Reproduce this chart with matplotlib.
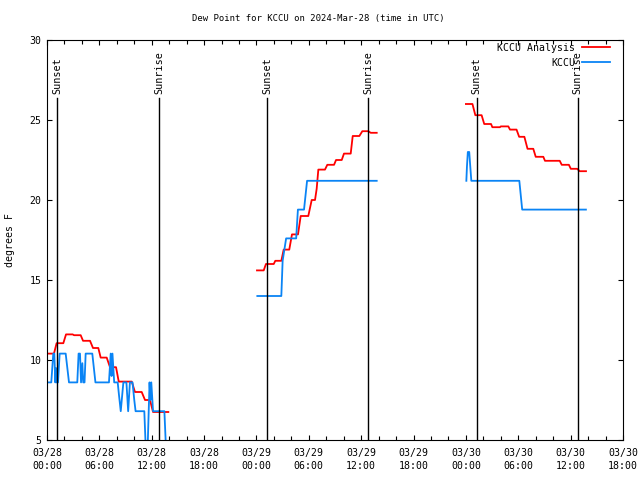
#!/usr/bin/env python3
"""KCCU dew point plot (analysis vs obs) with sunrise / sunset markers."""

import numpy as np
import pandas as pd
import matplotlib
matplotlib.use("Agg")
import matplotlib.pyplot as plt
import matplotlib.dates as mdates

START = pd.Timestamp("2024-03-28 00:00")
END = pd.Timestamp("2024-03-30 18:00")

# hours after 03/28 00:00 UTC, dew point degF (nan = gap)
ana_hours = [0.1, 0.8, 1.1, 1.87, 2.18, 2.94, 3.1, 3.86, 4.13, 4.93, 5.27, 5.88,
             6.15, 6.84, 7.22, 7.91, 8.22, 9.71, 10.08, 10.85, 11.23, 11.8, 12.15, 13.9,
             np.nan,
             24.06, 24.83, 25.09, 25.98, 26.16, 26.85, 27.12, 27.76, 28.07, 28.76,
             29.07, 29.94, 30.33, 30.71, 30.9, 31.09, 31.85, 32.12, 32.89, 33.12,
             33.77, 34.03, 34.8, 35.03, 35.79, 36.13, 36.82, 37.09, 37.78,
             np.nan,
             48.0, 48.75, 49.08, 49.8, 50.1, 50.88, 51.03, 51.9, 52.0, 52.86, 53.05,
             53.8, 54.1, 54.7, 55.06, 55.72, 56.0, 56.87, 57.06, 58.75, 58.98, 59.8,
             60.02, 60.75, 61.04, 61.76]
ana_dewp = [10.4, 10.4, 11.05, 11.05, 11.6, 11.6, 11.55, 11.55, 11.2, 11.2, 10.75, 10.75,
            10.15, 10.15, 9.55, 9.55, 8.65, 8.65, 8.0, 8.0, 7.5, 7.5, 6.75, 6.75,
            np.nan,
            15.6, 15.6, 16.0, 16.0, 16.2, 16.2, 16.9, 16.9, 17.85, 17.85,
            19.0, 19.0, 20.0, 20.0, 20.7, 21.9, 21.9, 22.2, 22.2, 22.5,
            22.5, 22.9, 22.9, 24.0, 24.0, 24.3, 24.3, 24.2, 24.2,
            np.nan,
            26.0, 26.0, 25.3, 25.3, 24.75, 24.75, 24.55, 24.55, 24.6, 24.6, 24.4,
            24.4, 23.95, 23.95, 23.2, 23.2, 22.7, 22.7, 22.45, 22.45, 22.2, 22.2,
            21.95, 21.95, 21.8, 21.8]

obs_hours = [0.05, 0.49, 0.72, 0.84, 0.95, 1.03, 1.1, 1.26, 1.45, 2.14, 2.52, 3.47,
             3.62, 3.78, 3.9, 4.05, 4.15, 4.3, 4.43, 5.19, 5.55, 7.1, 7.3, 7.4, 7.5,
             7.7, 8.1, 8.25, 8.45, 8.75, 9.1, 9.3, 9.5, 9.8, 10.0, 10.15, 11.15,
             11.35, 11.45, 11.75, 11.85, 11.95, 12.15, 13.45, 13.75,
             np.nan,
             24.1, 26.85, 27.0, 27.4, 28.55, 28.75, 29.45, 29.8, 37.78,
             np.nan,
             48.05, 48.12, 48.22, 48.38, 48.5, 48.62, 54.12, 54.45, 61.75]
obs_dewp = [8.6, 8.6, 10.4, 10.4, 8.6, 9.5, 8.6, 8.6, 10.4, 10.4, 8.6, 8.6,
            10.4, 10.4, 8.6, 9.8, 8.6, 8.6, 10.4, 10.4, 8.6, 8.6, 10.4, 9.0, 10.4,
            8.6, 8.6, 7.8, 6.8, 8.6, 8.6, 6.8, 8.6, 8.6, 7.5, 6.8, 6.8,
            4.0, 3.0, 8.6, 7.5, 8.6, 6.8, 6.8, 3.0,
            np.nan,
            14.0, 14.0, 16.2, 17.6, 17.6, 19.4, 19.4, 21.2, 21.2,
            np.nan,
            21.2, 22.1, 23.0, 23.0, 22.1, 21.2, 21.2, 19.4, 19.4]

sun_times = ["2024-03-28 01:11", "2024-03-28 12:52", "2024-03-29 01:13",
             "2024-03-29 12:50", "2024-03-30 01:14", "2024-03-30 12:48"]
sun_labels = ["Sunset", "Sunrise", "Sunset", "Sunrise", "Sunset", "Sunrise"]

plt.rcParams["font.family"] = ["DejaVu Sans Mono"]
plt.rcParams["font.size"] = 7.1

t0 = mdates.date2num(START)
ana_x = t0 + np.array(ana_hours) / 24.0
obs_x = t0 + np.array(obs_hours) / 24.0

fig = plt.figure(figsize=(6.4, 4.8), dpi=100)
ax = fig.add_axes([47 / 640, 40 / 480, 576 / 640, 400 / 480])

ax.plot(ana_x, ana_dewp, color="#ff0000", lw=1.3, label="KCCU Analysis")
ax.plot(obs_x, obs_dewp, color="#0a84f5", lw=1.3, label="KCCU")

# sunrise / sunset markers
for t, lab in zip(sun_times, sun_labels):
    xs = mdates.date2num(pd.Timestamp(t))
    ax.plot([xs, xs], [5, 26.4], color="black", lw=1.0)
    ax.text(xs, 26.65, lab, rotation=90, ha="center", va="bottom", fontsize=7.3)

ax.set_xlim(t0, mdates.date2num(END))
ax.set_ylim(5, 30)
ax.set_yticks([5, 10, 15, 20, 25, 30])
ax.xaxis.set_major_locator(mdates.HourLocator(byhour=[0, 6, 12, 18]))
ax.xaxis.set_minor_locator(mdates.HourLocator(byhour=range(0, 24, 2)))
ax.xaxis.set_major_formatter(mdates.DateFormatter("%m/%d\n%H:%M"))
for lbl in ax.get_xticklabels():
    lbl.set_linespacing(1.45)

ax.tick_params(which="both", direction="in", top=True, right=True, width=0.8)
ax.tick_params(which="major", length=3.6)
ax.tick_params(which="minor", length=3.0)
ax.tick_params(axis="x", pad=5.5)
ax.tick_params(axis="y", pad=4)
for s in ax.spines.values():
    s.set_linewidth(0.8)

ax.legend(loc="upper right", bbox_to_anchor=((610 - 47) / 576, 0.993),
          frameon=False, markerfirst=False, borderaxespad=0, borderpad=0,
          handlelength=2.85, handletextpad=0.7, labelspacing=0.5)

fig.text(0.497, 1 - 19 / 480, "Dew Point for KCCU on 2024-Mar-28 (time in UTC)",
         ha="center", va="center", fontsize=6.4)
fig.text(10 / 640, 0.5, "degrees F", rotation=90, ha="center", va="center")

fig.savefig("out.png", dpi=100)
